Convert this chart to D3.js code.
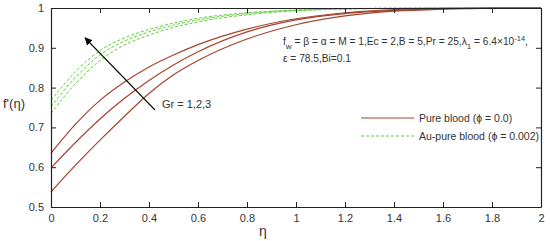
<!DOCTYPE html>
<html>
<head>
<meta charset="utf-8">
<script src="https://cdn.jsdelivr.net/npm/d3@7"></script>
<style>
  body { margin: 0; background: #fff; }
  text { font-family: "Liberation Sans", Arial, sans-serif; fill: #333; }
</style>
</head>
<body>
<div id="canvas"></div>
<script>
"use strict"

/* drawing size */
let svgWidth = 550;
let svgHeight = 241;
let leftMargin = 51
let rightMargin = 9
let topMargin = 8
let bottomMargin = 34

/* data: eta grid and f'(eta) for Gr = 1,2,3 */
let etaValues = [0, 0.1, 0.2, 0.3, 0.4, 0.5, 0.6, 0.8, 1.0, 1.2, 1.4, 1.6, 1.8, 2.0];

let pureBlood = [
    [0.538, 0.605, 0.668, 0.728, 0.785, 0.832, 0.868, 0.922, 0.958, 0.980, 0.992, 0.997, 0.999, 1.0],
    [0.598, 0.662, 0.721, 0.773, 0.818, 0.857, 0.890, 0.940, 0.970, 0.986, 0.994, 0.998, 1.0, 1.0],
    [0.635, 0.708, 0.768, 0.814, 0.852, 0.882, 0.908, 0.947, 0.973, 0.988, 0.996, 0.999, 1.0, 1.0]
];

let auBlood = [
    [0.735, 0.810, 0.868, 0.907, 0.932, 0.951, 0.965, 0.983, 0.993, 0.997, 0.999, 1.0, 1.0, 1.0],
    [0.752, 0.826, 0.882, 0.917, 0.940, 0.957, 0.970, 0.986, 0.994, 0.998, 0.999, 1.0, 1.0, 1.0],
    [0.768, 0.840, 0.893, 0.925, 0.946, 0.962, 0.974, 0.988, 0.995, 0.998, 1.0, 1.0, 1.0, 1.0]
];

let xTicks = [0, 0.2, 0.4, 0.6, 0.8, 1, 1.2, 1.4, 1.6, 1.8, 2];
let yTicks = [0.5, 0.6, 0.7, 0.8, 0.9, 1];

let legendLabels = ["Pure blood (\u03D5 = 0.0)", "Au-pure blood (\u03D5 = 0.002)"];

/* arrow from (eta, f') to (eta, f') */
let arrowFrom = [0.424, 0.744];
let arrowTo = [0.139, 0.925];

let redColor = "#a5442e";
let greenColor = "#5fcf3a";

let svg = d3.select("#canvas")
    .append("svg")
    .attr("width", svgWidth)
    .attr("height", svgHeight);

svg.append("defs").append("marker")
    .attr("id", "head")
    .attr("viewBox", "0 0 10 10")
    .attr("refX", 9)
    .attr("refY", 5)
    .attr("markerWidth", 6)
    .attr("markerHeight", 6)
    .attr("orient", "auto")
    .append("path")
    .attr("d", "M0,0 L10,5 L0,10 z")
    .attr("fill", "#000");

/* scales */
let xScale = d3.scaleLinear()
    .domain([0, 2])
    .range([leftMargin, svgWidth - rightMargin]);

let yScale = d3.scaleLinear()
    .domain([0.5, 1])
    .range([svgHeight - bottomMargin, topMargin]);

let line = d3.line()
    .x(function (d, i) { return xScale(etaValues[i]); })
    .y(function (d) { return yScale(d); })
    .curve(d3.curveMonotoneX);

/* curves */
for (let i = 0; i < auBlood.length; i++) {
    svg.append("path")
        .attr("d", line(auBlood[i]))
        .attr("fill", "none")
        .attr("stroke", greenColor)
        .attr("stroke-width", 1)
        .attr("stroke-dasharray", "3,2");
}
for (let i = 0; i < pureBlood.length; i++) {
    svg.append("path")
        .attr("d", line(pureBlood[i]))
        .attr("fill", "none")
        .attr("stroke", redColor)
        .attr("stroke-width", 1.2);
}

/* axes, ticks point inwards like matlab */
let tickLen = 5;
svg.append("g")
    .attr("transform", `translate(0,${yScale(0.5)})`)
    .call(d3.axisBottom(xScale).tickValues(xTicks).tickSizeInner(-tickLen).tickSizeOuter(0).tickPadding(7).tickFormat(d3.format("~g")));
svg.append("g")
    .attr("transform", `translate(${xScale(0)},0)`)
    .call(d3.axisLeft(yScale).tickValues(yTicks).tickSizeInner(-tickLen).tickSizeOuter(0).tickPadding(7).tickFormat(d3.format("~g")));
svg.append("g")
    .attr("transform", `translate(0,${yScale(1)})`)
    .call(d3.axisTop(xScale).tickValues(xTicks).tickSizeInner(-tickLen).tickSizeOuter(0).tickFormat(""));
svg.append("g")
    .attr("transform", `translate(${xScale(2)},0)`)
    .call(d3.axisRight(yScale).tickValues(yTicks).tickSizeInner(-tickLen).tickSizeOuter(0).tickFormat(""));

svg.selectAll(".domain").attr("stroke", "#222").attr("stroke-width", 1.2);
svg.selectAll(".tick line").attr("stroke", "#222");
svg.selectAll(".tick text").attr("font-size", 11).attr("fill", "#333")
    .attr("font-family", "Liberation Sans, Arial, sans-serif");

/* axis labels */
svg.append("text")
    .attr("x", 3)
    .attr("y", 108)
    .attr("font-size", 13)
    .text("f'(\u03B7)");

svg.append("text")
    .attr("x", 263)
    .attr("y", 236)
    .attr("font-size", 14)
    .attr("text-anchor", "middle")
    .text("\u03B7");

/* arrow + label */
svg.append("line")
    .attr("x1", xScale(arrowFrom[0]))
    .attr("y1", yScale(arrowFrom[1]))
    .attr("x2", xScale(arrowTo[0]))
    .attr("y2", yScale(arrowTo[1]))
    .attr("stroke", "#000")
    .attr("stroke-width", 1.3)
    .attr("marker-end", "url(#head)");

svg.append("text")
    .attr("x", 162)
    .attr("y", 108)
    .attr("font-size", 11)
    .text("Gr = 1,2,3");

/* parameter text */
let params = svg.append("text")
    .attr("x", 283)
    .attr("y", 45)
    .attr("font-size", 10.2);
params.append("tspan").text("f");
params.append("tspan").attr("dy", 4).attr("font-size", 8).text("w");
params.append("tspan").attr("dy", -4).text(" = \u03B2 = \u03B1 = M = 1,Ec = 2,B = 5,Pr = 25,\u03BB");
params.append("tspan").attr("dy", 4).attr("font-size", 8).text("1");
params.append("tspan").attr("dy", -4).text(" = 6.4\u00D710");
params.append("tspan").attr("dy", -4).attr("font-size", 7.5).text("-14");
params.append("tspan").attr("dy", 4).text(",");

svg.append("text")
    .attr("x", 283)
    .attr("y", 62)
    .attr("font-size", 10.2)
    .text("\u03B5 = 78.5,Bi=0.1");

/* legend */
let legendColors = [redColor, greenColor];
let legendDash = [null, "3,2"];
for (let i = 0; i < 2; i++) {
    svg.append("line")
        .attr("x1", 361)
        .attr("x2", 414)
        .attr("y1", 118 + i * 18)
        .attr("y2", 118 + i * 18)
        .attr("stroke", legendColors[i])
        .attr("stroke-width", 1.2)
        .attr("stroke-dasharray", legendDash[i]);

    svg.append("text")
        .attr("x", 419)
        .attr("y", 118 + i * 18)
        .attr("dy", "0.35em")
        .attr("font-size", 10.5)
        .text(legendLabels[i]);
}
</script>
</body>
</html>
